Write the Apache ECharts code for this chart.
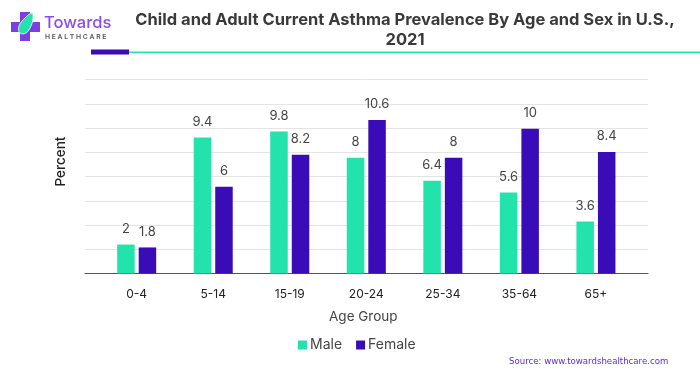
<!DOCTYPE html>
<html>
<head>
<meta charset="utf-8">
<style>
  html, body { margin: 0; padding: 0; background: #fff; }
  #chart { width: 700px; height: 375px; }
</style>
<script src="https://cdn.jsdelivr.net/npm/echarts@6/dist/echarts.min.js"></script>
</head>
<body>
<div id="chart"></div>
<script>
const categories = ['0-4', '5-14', '15-19', '20-24', '25-34', '35-64', '65+']
const male = [2, 9.4, 9.8, 8, 6.4, 5.6, 3.6]
const female = [1.8, 6, 8.2, 10.6, 8, 10, 8.4]
const axisMax = 13.4
const axisStep = 1.675

const green = '#22E3AC'
const purple = '#3A0CB7'
const font = 'Inter, "Noto Sans", sans-serif'

const chart = echarts.init(document.getElementById('chart'), null, { renderer: 'canvas' })

const barSeries = (name, data, color) => ({
  name,
  type: 'bar',
  xAxisIndex: 1,
  yAxisIndex: 1,
  data,
  barWidth: 17.5,
  barGap: '23%',
  itemStyle: { color },
  label: {
    show: true,
    position: 'top',
    distance: 9,
    fontFamily: font,
    fontSize: 13,
    color: '#444',
  },
})

chart.setOption({
  animation: false,
  backgroundColor: '#fff',
  title: {
    text: 'Child and Adult Current Asthma Prevalence By Age and Sex in U.S.,\n2021',
    left: 400,
    top: 5,
    textAlign: 'center',
    textStyle: {
      fontFamily: font,
      fontSize: 16.5,
      fontWeight: 700,
      color: '#3a3a3a',
      lineHeight: 20,
    },
  },
  legend: {
    data: ['Male', 'Female'],
    left: 293,
    top: 333,
    itemWidth: 9,
    itemHeight: 9,
    itemGap: 14,
    icon: 'rect',
    textStyle: { fontFamily: font, fontSize: 14, color: '#444', padding: [0, 0, 0, -2] },
  },
  grid: [
    // the rules run wider than the bars, so they get their own grid
    { left: 85, top: 79.5, width: 563, height: 194 },
    { left: 98.4, top: 79.5, width: 535.8, height: 194 },
  ],
  xAxis: [
    {
      gridIndex: 0,
      type: 'category',
      data: [],
      axisLine: { lineStyle: { color: '#555', width: 1 } },
      axisTick: { show: false },
      axisLabel: { show: false },
      splitLine: { show: false },
    },
    {
      gridIndex: 1,
      type: 'category',
      data: categories,
      axisLine: { show: false },
      axisTick: { show: false },
      axisLabel: { fontFamily: font, fontSize: 12, color: '#222', margin: 15 },
      name: 'Age Group',
      nameLocation: 'middle',
      nameGap: 36,
      nameTextStyle: { fontFamily: font, fontSize: 13.5, color: '#444', padding: [0, 6, 0, 0] },
    },
  ],
  yAxis: [
    {
      gridIndex: 0,
      type: 'value',
      min: 0,
      max: axisMax,
      interval: axisStep,
      axisLine: { show: false },
      axisTick: { show: false },
      axisLabel: { show: false },
      splitLine: { lineStyle: { color: '#e4e4e4', width: 1 } },
      name: 'Percent',
      nameLocation: 'middle',
      nameGap: 17,
      nameTextStyle: { fontFamily: font, fontSize: 13.5, fontWeight: 500, color: '#222', padding: [0, 0, 0, 30] },
    },
    {
      gridIndex: 1,
      type: 'value',
      min: 0,
      max: axisMax,
      interval: axisStep,
      axisLine: { show: false },
      axisTick: { show: false },
      axisLabel: { show: false },
      splitLine: { show: false },
    },
  ],
  series: [barSeries('Male', male, green), barSeries('Female', female, purple)],
  graphic: [
    // header rule
    { type: 'rect', shape: { x: 91, y: 49.5, width: 38, height: 5 }, style: { fill: purple } },
    { type: 'rect', shape: { x: 129, y: 51.5, width: 571, height: 1.5 }, style: { fill: green } },
    // logo
    { type: 'rect', shape: { x: 20, y: 12, width: 10, height: 29 }, style: { fill: '#7B3FE4' } },
    { type: 'rect', shape: { x: 11, y: 22, width: 29, height: 10 }, style: { fill: '#7B3FE4' } },
    {
      type: 'polygon',
      shape: { points: [[32, 13], [25, 18], [19, 26], [20, 33], [26, 33], [31, 26], [33, 18]], smooth: 0.4 },
      style: { fill: green, stroke: '#fff', lineWidth: 0.8 },
    },
    { type: 'text', style: { x: 44, y: 15, text: 'Towards', font: '500 16.5px Inter, sans-serif', fill: '#8A4BF0' } },
    { type: 'text', style: { x: 45, y: 33, text: 'H E A L T H C A R E', font: '600 6.8px Inter, sans-serif', fill: '#555' } },
    // source
    {
      type: 'text',
      style: {
        x: 509,
        y: 357,
        text: 'Source: www.towardshealthcare.com',
        font: '500 8.6px "DejaVu Sans", sans-serif',
        fill: '#5B2BD6',
      },
    },
  ],
})
</script>
</body>
</html>
